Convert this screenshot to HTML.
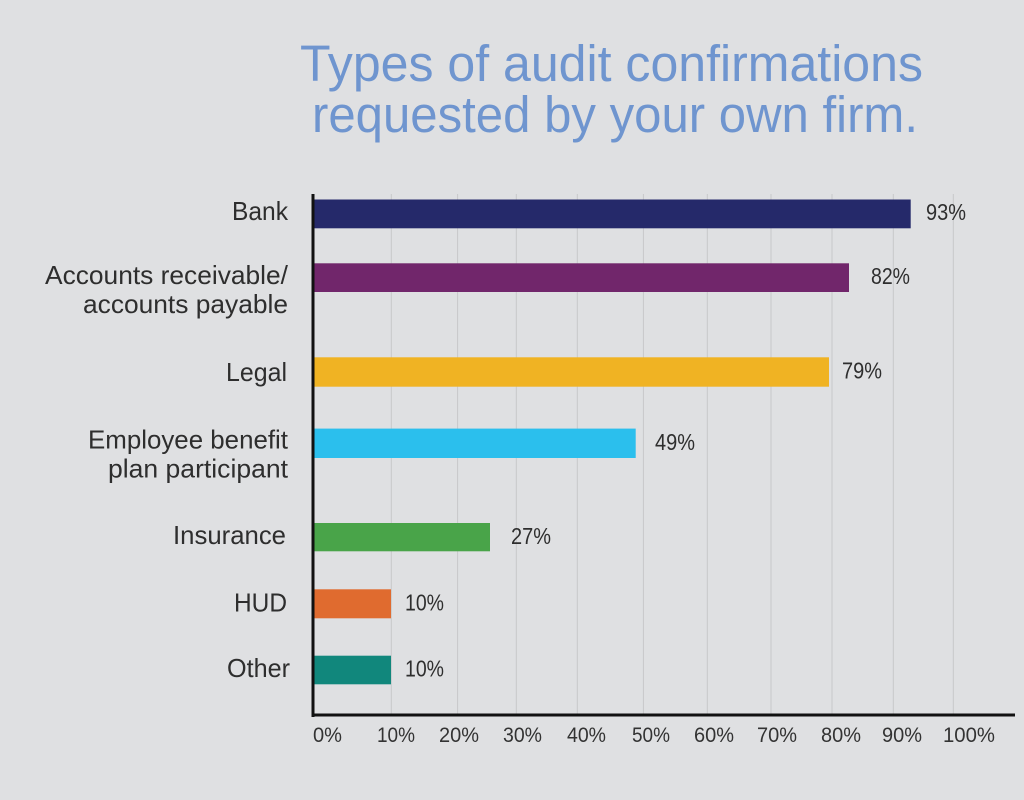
<!DOCTYPE html>
<html>
<head>
<meta charset="utf-8">
<style>
  html, body { margin: 0; padding: 0; background: #dfe0e2; }
  svg { display: block; }
  text { font-family: "Liberation Sans", "DejaVu Sans", sans-serif; }
</style>
</head>
<body>
<svg width="1024" height="800" viewBox="0 0 1024 800" xmlns="http://www.w3.org/2000/svg">
  <rect x="0" y="0" width="1024" height="800" fill="#dfe0e2"/>

  <!-- Title -->
  <text x="300" y="81" font-size="51" fill="#6f95cf" textLength="623" lengthAdjust="spacingAndGlyphs">Types of audit confirmations</text>
  <text x="312" y="132" font-size="51" fill="#6f95cf" textLength="606" lengthAdjust="spacingAndGlyphs">requested by your own firm.</text>

  <!-- Gridlines -->
  <g stroke="#c7c8ca" stroke-width="1">
    <line x1="391.3" y1="194" x2="391.3" y2="714"/>
    <line x1="457.6" y1="194" x2="457.6" y2="714"/>
    <line x1="516.3" y1="194" x2="516.3" y2="714"/>
    <line x1="577.3" y1="194" x2="577.3" y2="714"/>
    <line x1="643.4" y1="194" x2="643.4" y2="714"/>
    <line x1="707.3" y1="194" x2="707.3" y2="714"/>
    <line x1="771" y1="194" x2="771" y2="714"/>
    <line x1="832" y1="194" x2="832" y2="714"/>
    <line x1="893.3" y1="194" x2="893.3" y2="714"/>
    <line x1="953.3" y1="194" x2="953.3" y2="714"/>
  </g>

  <!-- Bars -->
  <rect x="313" y="199.5" width="597.7" height="28.8" fill="#25296a"/>
  <rect x="313" y="263.3" width="536" height="28.7" fill="#71266b"/>
  <rect x="313" y="357.3" width="516" height="29.4" fill="#f0b323"/>
  <rect x="313" y="428.6" width="322.7" height="29.4" fill="#2bbfed"/>
  <rect x="313" y="523" width="177" height="28.3" fill="#49a449"/>
  <rect x="313" y="589.3" width="78" height="29" fill="#e06b2f"/>
  <rect x="313" y="655.7" width="78" height="28.6" fill="#11877c"/>

  <!-- Axes -->
  <rect x="311.5" y="194" width="3" height="523" fill="#111"/>
  <rect x="311.5" y="713.5" width="703.5" height="3" fill="#111"/>

  <!-- Category labels -->
  <g font-size="26" fill="#2e2e2e" text-anchor="end">
    <text x="288" y="220" textLength="56" lengthAdjust="spacingAndGlyphs">Bank</text>
    <text x="288" y="284" textLength="243" lengthAdjust="spacingAndGlyphs">Accounts receivable/</text>
    <text x="288" y="313" textLength="205" lengthAdjust="spacingAndGlyphs">accounts payable</text>
    <text x="287" y="381" textLength="61" lengthAdjust="spacingAndGlyphs">Legal</text>
    <text x="288" y="448.5" textLength="200" lengthAdjust="spacingAndGlyphs">Employee benefit</text>
    <text x="288" y="477.5" textLength="180" lengthAdjust="spacingAndGlyphs">plan participant</text>
    <text x="286" y="544" textLength="113" lengthAdjust="spacingAndGlyphs">Insurance</text>
    <text x="287" y="611.5" textLength="53" lengthAdjust="spacingAndGlyphs">HUD</text>
    <text x="290" y="677" textLength="63" lengthAdjust="spacingAndGlyphs">Other</text>
  </g>

  <!-- Value labels -->
  <g font-size="23.5" fill="#2e2e2e">
    <text x="926" y="220" textLength="40" lengthAdjust="spacingAndGlyphs">93%</text>
    <text x="871" y="284" textLength="39" lengthAdjust="spacingAndGlyphs">82%</text>
    <text x="842" y="378.5" textLength="40" lengthAdjust="spacingAndGlyphs">79%</text>
    <text x="655" y="450" textLength="40" lengthAdjust="spacingAndGlyphs">49%</text>
    <text x="511" y="544" textLength="40" lengthAdjust="spacingAndGlyphs">27%</text>
    <text x="405" y="610.5" textLength="39" lengthAdjust="spacingAndGlyphs">10%</text>
    <text x="405" y="676.5" textLength="39" lengthAdjust="spacingAndGlyphs">10%</text>
  </g>

  <!-- Tick labels -->
  <g font-size="21" fill="#333">
    <text x="313" y="742" textLength="29" lengthAdjust="spacingAndGlyphs">0%</text>
    <text x="377" y="742" textLength="38" lengthAdjust="spacingAndGlyphs">10%</text>
    <text x="439" y="742" textLength="40" lengthAdjust="spacingAndGlyphs">20%</text>
    <text x="503" y="742" textLength="39" lengthAdjust="spacingAndGlyphs">30%</text>
    <text x="567" y="742" textLength="39" lengthAdjust="spacingAndGlyphs">40%</text>
    <text x="632" y="742" textLength="38" lengthAdjust="spacingAndGlyphs">50%</text>
    <text x="694" y="742" textLength="40" lengthAdjust="spacingAndGlyphs">60%</text>
    <text x="757" y="742" textLength="40" lengthAdjust="spacingAndGlyphs">70%</text>
    <text x="821" y="742" textLength="40" lengthAdjust="spacingAndGlyphs">80%</text>
    <text x="882" y="742" textLength="40" lengthAdjust="spacingAndGlyphs">90%</text>
    <text x="943" y="742" textLength="52" lengthAdjust="spacingAndGlyphs">100%</text>
  </g>
</svg>
</body>
</html>
